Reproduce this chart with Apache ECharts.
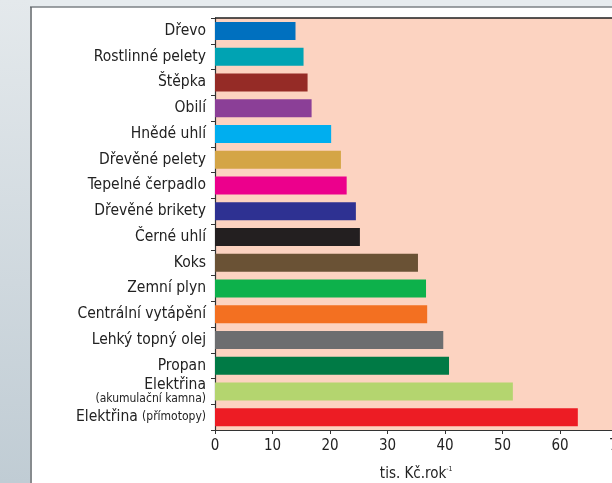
<!DOCTYPE html>
<html>
<head>
<meta charset="utf-8">
<script src="https://cdn.jsdelivr.net/npm/echarts@6/dist/echarts.min.js"></script>
<style>
  html, body { margin: 0; padding: 0; background: #ffffff; overflow: hidden; }
  #wrap { width: 612px; height: 483px; overflow: hidden; position: relative; }
  /* the plot continues slightly past the right edge of the frame */
  #chart { width: 620px; height: 483px; position: absolute; left: 0; top: 0; }
</style>
</head>
<body>
<div id="wrap"><div id="chart"></div></div>
<script>
// Annual heating costs by fuel type (thousand CZK per year)
const categories = [
  'Dřevo', 'Rostlinné pelety', 'Štěpka', 'Obilí', 'Hnědé uhlí',
  'Dřevěné pelety', 'Tepelné čerpadlo', 'Dřevěné brikety', 'Černé uhlí',
  'Koks', 'Zemní plyn', 'Centrální vytápění', 'Lehký topný olej', 'Propan',
  'Elektřina akumulace', 'Elektřina přímotopy'
];
const costs = [14.0, 15.4, 16.1, 16.8, 20.2, 21.9, 22.9, 24.5, 25.2,
               35.3, 36.7, 36.9, 39.7, 40.7, 51.8, 63.1];
const barColors = [
  '#0070bf', '#00a3b3', '#952b26', '#8b3f97', '#00aeef',
  '#d4a546', '#ec008c', '#2e3192', '#231f20', '#6a5235',
  '#0db14b', '#f37021', '#6d6e70', '#007a45', '#b4d56f', '#ed1c24'
];
const xTicks = [0, 10, 20, 30, 40, 50, 60, 70];

const FONT = 'DejaVu Sans Condensed';
const chart = echarts.init(document.getElementById('chart'));

chart.setOption({
  animation: false,
  textStyle: { fontFamily: FONT },
  graphic: [
    // page frame: pale strip on top, blue-grey strip on the left
    { type: 'rect', z: -10, shape: { x: 0, y: 0, width: 620, height: 7 },
      style: { fill: '#e7ecef' } },
    { type: 'rect', z: -10, shape: { x: 0, y: 0, width: 30, height: 483 },
      style: { fill: new echarts.graphic.LinearGradient(0, 0, 0, 1, [
        { offset: 0, color: '#e4e9ec' }, { offset: 1, color: '#c0ccd4' }]) } },
    { type: 'line', z: -9, shape: { x1: 30, y1: 7, x2: 620, y2: 7 },
      style: { stroke: '#7d8286', lineWidth: 1.5 } },
    { type: 'line', z: -9, shape: { x1: 31, y1: 7, x2: 31, y2: 483 },
      style: { stroke: '#5f6468', lineWidth: 1.5 } },
    // top border of the plot
    { type: 'line', z: 5, shape: { x1: 215, y1: 18, x2: 620, y2: 18 },
      style: { stroke: '#1e1e1e', lineWidth: 1.3 } }
  ],
  grid: {
    left: 215, top: 18, bottom: 53, right: 2.5,
    outerBoundsMode: 'none', containLabel: false,
    show: true, backgroundColor: '#fcd3c1', borderWidth: 0
  },
  xAxis: {
    type: 'value', min: 0, max: 70, interval: 10,
    name: '{a|tis. Kč.rok}{s|-1}',
    nameLocation: 'middle', nameGap: 36,
    nameTextStyle: {
      rich: {
        a: { fontSize: 15, color: '#222', fontFamily: FONT },
        s: { fontSize: 7, color: '#222', fontFamily: FONT, padding: [0, 0, 9, 0] }
      }
    },
    axisLine: { show: true, lineStyle: { color: '#333', width: 1.2 } },
    axisTick: { show: true, length: 4, lineStyle: { color: '#333' } },
    axisLabel: {
      color: '#222', fontSize: 15, margin: 9,
      formatter: v => xTicks.includes(v) ? String(v) : ''
    },
    splitLine: { show: false }
  },
  yAxis: {
    type: 'category', inverse: true, data: categories,
    axisLine: { show: true, lineStyle: { color: '#333', width: 1.2 } },
    axisTick: { show: true, length: 4, lineStyle: { color: '#333' } },
    axisLabel: {
      color: '#222', fontSize: 15, margin: 9, align: 'right',
      formatter: function (v) {
        if (v === 'Elektřina akumulace') return '{n|Elektřina}\n{s|(akumulační kamna)}';
        if (v === 'Elektřina přímotopy') return '{n|Elektřina} {s|(přímotopy)}';
        return '{n|' + v + '}';
      },
      rich: {
        n: { fontSize: 15.5, color: '#222', fontFamily: FONT, lineHeight: 15 },
        s: { fontSize: 12, color: '#222', fontFamily: FONT, lineHeight: 13 }
      }
    }
  },
  series: [{
    type: 'bar',
    data: costs.map((v, i) => ({ value: v, itemStyle: { color: barColors[i] } })),
    barWidth: 18
  }]
});
</script>
</body>
</html>
